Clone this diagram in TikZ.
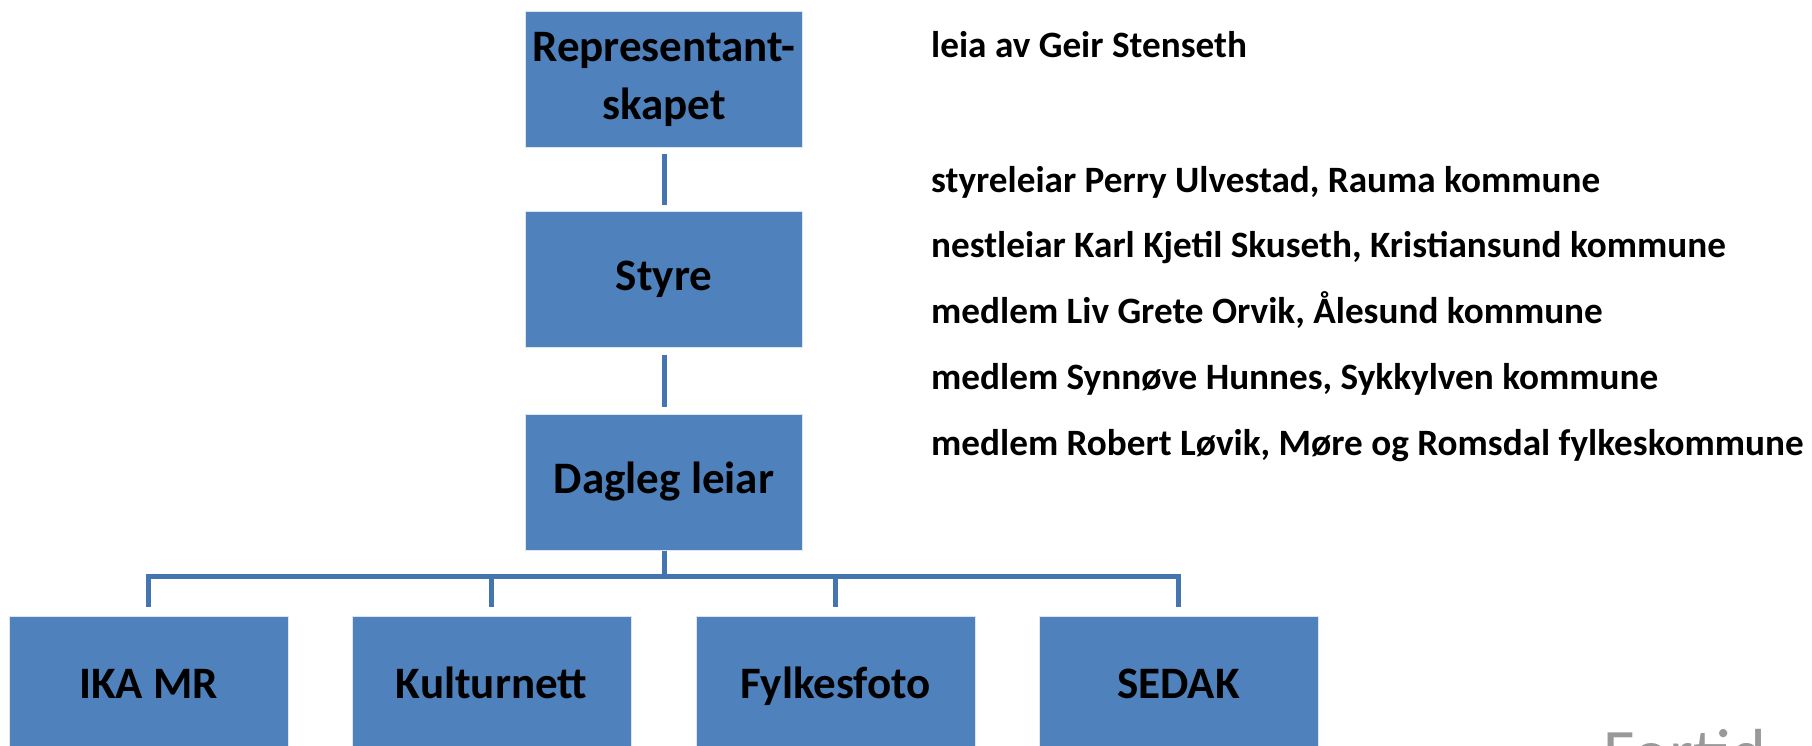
\documentclass[tikz,border=0pt]{standalone}
\usepackage{fontspec}
\setmainfont{Carlito}
\definecolor{boxblue}{HTML}{4F81BD}
\definecolor{lineblue}{HTML}{4575B0}
\begin{document}
\begin{tikzpicture}[x=1pt,y=-1pt,
  orgbox/.style={draw=white!80!boxblue, line width=1pt, fill=boxblue,
    minimum width=277pt, minimum height=136pt, inner sep=0pt,
    font=\bfseries\fontsize{45}{58}\selectfont, align=center},
  unitbox/.style={orgbox, minimum width=279pt, text height=29pt, text depth=0pt},
  link/.style={draw=lineblue, line width=5pt},
  member/.style={anchor=base west, inner sep=0pt,
    font=\bfseries\fontsize{37.2}{40}\selectfont}]
\useasboundingbox (0,0) rectangle (1812,745);
\clip (0,0) rectangle (1812,745);
\fill[white] (0,0) rectangle (1812,745);
% top chain
\node[orgbox] (rep) at (664,79) {Representant-\\skapet};
\node[orgbox] (styre) at (664,279) {Styre};
\node[orgbox] (dagleg) at (664,482) {Dagleg leiar};
% units
\node[unitbox] (ika) at (148.5,684) {IKA MR};
\node[unitbox] (kult) at (491.5,684) {Kulturnett};
\node[unitbox] (fylk) at (835.5,684) {Fylkesfoto};
\node[unitbox] (sedak) at (1178.5,684) {SEDAK};
% connectors
\draw[link, shorten <=6pt, shorten >=6pt] (rep) -- (styre);
\draw[link, shorten <=7pt, shorten >=7pt] (styre) -- (dagleg);
\coordinate (bar) at (664,576);
\draw[link] (dagleg.south) -- (bar);
\draw[link] ([yshift=9pt]ika.north) -- (ika.north |- bar) -- (sedak.north |- bar) -- ([yshift=9pt]sedak.north);
\draw[link] (kult.north |- bar) -- ([yshift=9pt]kult.north);
\draw[link] (fylk.north |- bar) -- ([yshift=9pt]fylk.north);
% members text
\node[member] (leia) at (931,57) {leia av Geir Stenseth};
\node[member] (m1) at (931,192) {styreleiar Perry Ulvestad, Rauma kommune};
\node[member] (m2) at (931,257) {nestleiar Karl Kjetil Skuseth, Kristiansund kommune};
\node[member] (m3) at (931,323) {medlem Liv Grete Orvik, Ålesund kommune};
\node[member] (m4) at (931,389) {medlem Synnøve Hunnes, Sykkylven kommune};
\node[member] (m5) at (931,455) {medlem Robert Løvik, Møre og Romsdal fylkeskommune};
% cut-off footer text
\node[anchor=north west, inner sep=0pt, text=gray!80,
  font=\fontsize{68}{70}\selectfont] (fortid) at (1603,729) {Fortid};
\end{tikzpicture}
\end{document}
